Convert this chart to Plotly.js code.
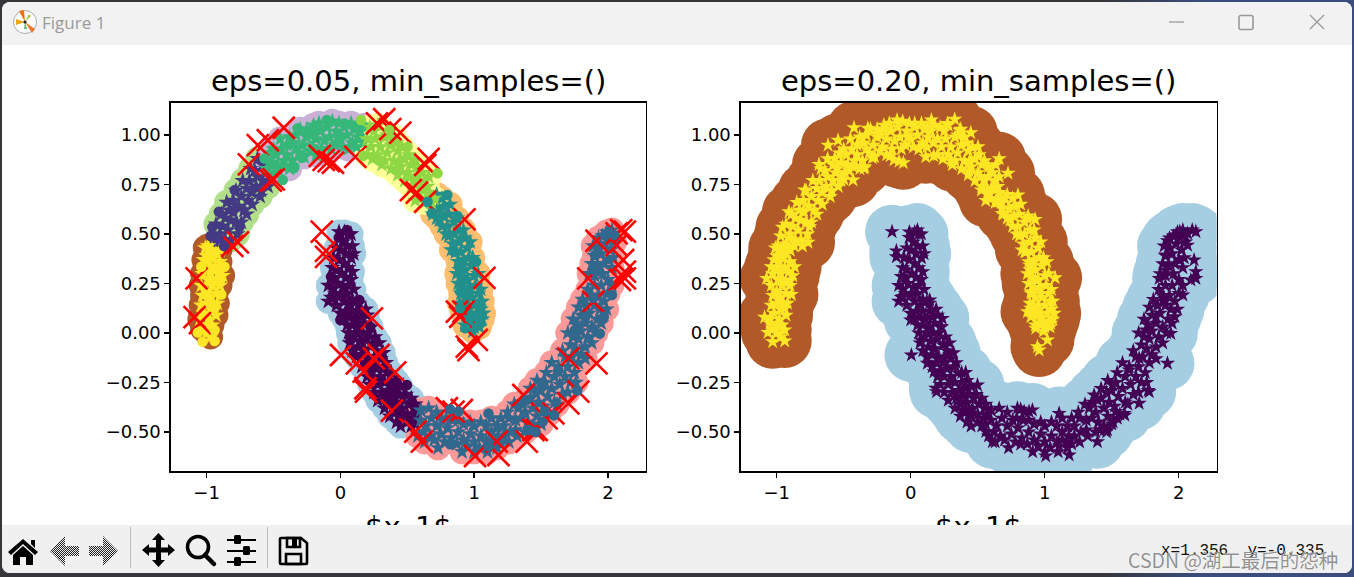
<!DOCTYPE html>
<html><head><meta charset="utf-8">
<script src="https://cdn.plot.ly/plotly-3.0.1.min.js"></script>
<style>
html,body{margin:0;padding:0;width:1354px;height:577px;overflow:hidden;background:#35363a;}
#edge{position:absolute;left:1100px;top:0;width:254px;height:577px;background:linear-gradient(90deg,#35363a,#3a4d7c 40%);}
#win{position:absolute;left:2px;top:2px;width:1350px;height:571px;background:#fff;border-radius:8px;overflow:hidden;}
#plot{position:absolute;left:0;top:0;width:1354px;height:577px;}
#titlebar{position:absolute;left:2px;top:2px;width:1350px;height:43px;background:#f2f2f2;border-radius:8px 8px 0 0;font:17px "Open Sans","Noto Sans",sans-serif;color:#9a9a9a;}
#titlebar span{position:absolute;left:40px;top:9px;}
#toolbar{position:absolute;left:2px;top:525px;width:1350px;height:48px;background:#f0f0f0;border-radius:0 0 8px 8px;}
#coord{position:absolute;left:1159px;top:17px;font:16px "Liberation Mono",monospace;color:#111;white-space:pre;}
#mark{position:absolute;left:1128px;top:545px;font:19.5px "Noto Sans CJK SC","Noto Sans",sans-serif;color:rgba(125,125,125,.85);text-shadow:0 0 1px #fff;white-space:pre;}
svg.ch{position:absolute;left:0;top:0;}
</style></head><body>
<div id="edge"></div><div id="win"></div><div id="plot"></div>
<div id="titlebar"><span>Figure 1</span>
<svg class="ch" width="1350" height="43">
<circle cx="23" cy="20" r="11.5" fill="#fff" stroke="#aaa"/>
<path d="M23 20L17 9L22 8Z" fill="#f07010"/><path d="M23 20L14 17L14 23Z" fill="#e8a818"/><path d="M23 20L30 31L33 27Z" fill="#e87830"/><path d="M23 20L27 12L29 14Z" fill="#a0c840"/><path d="M23 20L22 27L25 27Z" fill="#60b868"/><circle cx="23" cy="20" r="1.6" fill="#222"/>
<path d="M1167 20h15" stroke="#999" stroke-width="1.3"/>
<rect x="1237" y="13.5" width="14" height="14" rx="2" fill="none" stroke="#999" stroke-width="1.6"/>
<path d="M1308 13l14 14M1322 13l-14 14" stroke="#999" stroke-width="1.3"/>
</svg></div>
<div id="toolbar">
<svg class="ch" width="1350" height="48">
<defs><pattern id="dith" width="2" height="2" patternUnits="userSpaceOnUse"><rect width="1" height="1" fill="#222"/><rect x="1" y="1" width="1" height="1" fill="#222"/></pattern></defs>
<path d="M6 27L21 14L36 27L33 30L21 19L9 30ZM11 30L21 21L31 30V40H24V32H18V40H11ZM29 15h4v8l-4-4Z" fill="#000"/>
<path d="M48 26L63 11V21H77V31H63V41Z" fill="url(#dith)"/>
<path d="M116 26L101 11V21H87V31H101V41Z" fill="url(#dith)"/>
<path d="M128.5 2V43" stroke="#bbb"/>
<path d="M156.5 8L163 15H159V22.5H166V19L173 25L166 31V27.5H159V35H163L156.5 42L150 35H154V27.5H147V31L140 25L147 19V22.5H154V15H150Z" fill="#000"/>
<circle cx="196" cy="22" r="10.5" fill="none" stroke="#000" stroke-width="3.6"/><path d="M203 30L212 39" stroke="#000" stroke-width="4.5" stroke-linecap="round"/>
<path d="M225 15H254M225 26H254M225 37H254" stroke="#000" stroke-width="2"/><rect x="232" y="10" width="7" height="9" rx="1.5" fill="#000"/><rect x="241" y="21" width="7" height="9" rx="1.5" fill="#000"/><rect x="232" y="32" width="7" height="9" rx="1.5" fill="#000"/>
<path d="M265.5 2V43" stroke="#bbb"/>
<path d="M279 13H299L305 18V38Q305 39 304 39H279Q278 39 278 38V14Q278 13 279 13Z" fill="none" stroke="#000" stroke-width="2.6"/>
<path d="M285 13H298V22H285ZM284 29H299V39H284Z" fill="none" stroke="#000" stroke-width="2.6"/><rect x="290" y="14" width="5" height="7" fill="#000"/>
</svg>
<div id="coord">x=1.356  y=-0.335</div></div>
<div id="mark">CSDN @湖工最后的怨种</div>
<script>
const xTicks = [-1, 0, 1, 2];
const yTicks = [-0.5, -0.25, 0, 0.25, 0.5, 0.75, 1];
const titles = ['eps=0.05, min_samples=()', 'eps=0.20, min_samples=()'];
const xLabel = '$x_1$';

const core0 = [[.03,.51],[.06,.5],[.02,.46],[.05,.44],[.09,.44],[0,.42],[.04,.4],[.08,.38],[-.01,.37],[.03,.35],[.06,.33],[-.03,.32],[.01,.3],[.04,.28],[-.05,.28],[-.02,.25],[.02,.23],[.06,.24],[-.06,.22],[-.04,.2],[0,.19],[.05,.2],[.09,.17],[-.07,.18],[.03,.16],[.07,.14],[.12,.16],[.04,.11],[.09,.11],[.14,.11],[.06,.08],[.11,.07],[.16,.08],[.03,.07],[.09,.04],[.14,.03],[.18,.05],[.12,0],[.17,0],[.21,0],[.1,-.02],[.15,-.04],[.2,-.03],[.13,-.07],[.18,-.08],[.24,-.06],[.16,-.11],[.21,-.12],[.27,-.09],[.19,-.15],[.24,-.15],[.3,-.13],[.22,-.19],[.27,-.18],[.32,-.17],[.25,-.22],[.3,-.22],[.35,-.2],[.28,-.26],[.33,-.25],[.38,-.25],[.31,-.3],[.36,-.29],[.41,-.28],[.34,-.33],[.39,-.32],[.44,-.31],[.37,-.36],[.42,-.35],[.47,-.33],[.41,-.39],[.46,-.38],[.51,-.36],[.45,-.42],[.5,-.41],[.55,-.38],[.5,-.45],[.54,-.43],[.57,-.41],[.53,-.47],[.56,-.46],
[-.01,.51],[.08,.5],[-.03,.43],[.1,.4],[-.05,.38],[.09,.31],[-.06,.33],[.08,.27],[-.09,.24],[.1,.22],[-.09,.16],[-.03,.14],[.14,.15],[0,.1],[.19,.12],[.05,.04],[.2,.09],[.06,0],[.23,.03],[.07,-.05],[.26,-.02],[.09,-.09],[.29,-.05],[.12,-.12],[.32,-.1],[.16,-.17],[.34,-.15],[.2,-.22],[.38,-.2],[.22,-.26],[.42,-.24],[.25,-.3],[.45,-.27],[.28,-.34],[.49,-.31],[.33,-.38],[.53,-.33],[.37,-.42],[.56,-.36],[.42,-.45],[.45,-.47],[.6,-.39]];
const dots0 = [[.05,.52],[-.012,.483],[-.06,.183],[0,.066],[.224,.032],[.498,-.263],[.435,-.406],[.075,-.035],[.142,.167],[-.07,.285]];
const core1 = [[-.93,.45],[-.9,.5],[-.86,.47],[-.88,.54],[-.84,.52],[-.82,.57],[-.86,.58],[-.8,.61],[-.78,.56],[-.83,.62],[-.76,.64],[-.72,.62],[-.8,.67],[-.74,.69],[-.69,.67],[-.7,.73],[-.66,.71],[-.63,.74],[-.68,.77],[-.62,.79],[-.58,.77],[-.64,.82],[-.56,.81],[-.52,.79],[-.59,.72],
[-.95,.44],[-.9,.42],[-.93,.55],[-.89,.6],[-.82,.47],[-.77,.5],[-.74,.56],[-.85,.66],[-.78,.72],[-.7,.6],[-.66,.65],[-.73,.77],[-.67,.83],[-.6,.69],[-.58,.85],[-.54,.74],[-.62,.88]];
const dots1 = [[-.97,.49],[-.91,.48],[-.957,.534],[-.908,.613],[-.87,.44],[-.754,.537],[-.8,.62],[-.79,.722]];
const core2 = [[.6,-.44],[.64,-.47],[.68,-.43],[.62,-.5],[.67,-.52],[.72,-.47],[.76,-.44],[.7,-.54],[.75,-.51],[.8,-.48],[.84,-.44],[.78,-.55],[.83,-.53],[.88,-.5],[.92,-.46],[.87,-.56],[.92,-.54],[.97,-.51],[1,-.47],[.95,-.57],[1,-.55],[1.05,-.52],[1.09,-.47],[1.04,-.58],[1.09,-.55],[1.13,-.5],[1.17,-.47],[1.13,-.54],[1.18,-.52],[1.22,-.47],[1.26,-.43],[1.22,-.52],[1.27,-.5],[1.31,-.44],[1.2,-.43],[1.25,-.4],[1.31,-.49],[1.35,-.43],[1.38,-.4],[1.33,-.38],[1.4,-.45],[1.44,-.38],[1.48,-.35],[1.42,-.33],[1.47,-.42],[1.52,-.37],[1.46,-.3],[1.5,-.29],[1.55,-.32],[1.58,-.28],[1.53,-.25],[1.6,-.35],[1.64,-.26],[1.6,-.22],[1.66,-.31],[1.68,-.22],[1.63,-.17],[1.72,-.25],[1.7,-.17],[1.75,-.2],[1.73,-.12],[1.68,-.12],[1.78,-.15],[1.76,-.08],[1.8,-.11],[1.72,-.06],[1.78,-.03],[1.83,-.07],[1.8,.01],[1.85,-.02],[1.77,.04],[1.83,.05],[1.88,.03],[1.8,.09],[1.86,.1],[1.92,.07],[1.84,.14],[1.9,.14],[1.94,.12],[1.88,.19],[1.93,.19],[1.97,.16],[1.9,.24],[1.95,.24],[2,.2],[1.9,.29],[1.96,.3],[2,.27],[1.92,.34],[1.97,.35],[1.9,.39],[1.95,.4],[2,.37],[1.93,.43],[1.98,.45],[2.02,.42],[1.96,.49],[2.01,.48],[1.99,.51],
[.6,-.39],[.66,-.38],[.58,-.52],[.63,-.55],[.72,-.4],[.79,-.43],[.73,-.58],[.88,-.44],[.91,-.6],[.97,-.45],[1,-.6],[1.05,-.45],[1.1,-.6],[1.13,-.43],[1.17,-.58],[1.2,-.56],[1.3,-.36],[1.26,-.55],[1.36,-.35],[1.32,-.52],[1.38,-.5],[1.42,-.28],[1.44,-.47],[1.5,-.46],[1.47,-.24],[1.56,-.41],[1.54,-.2],[1.62,-.36],[1.58,-.15],[1.66,-.09],[1.7,-.3],[1.74,-.02],[1.76,-.25],[1.7,0],[1.83,-.13],[1.74,.07],[1.88,-.05],[1.78,.13],[1.91,0],[1.81,.17],[1.95,.05],[1.85,.22],[1.99,.12],[1.86,.3],[2.03,.24],[1.88,.35],[2.03,.33],[1.89,.44],[2.04,.38],[1.93,.48],[2.05,.46],[2.03,.52]];
const dots2 = [[.82,-.385],[.883,-.397],[.82,-.562],[1.107,-.406],[1.107,-.571],[1.505,-.263],[1.53,-.397],[1.63,-.187],[1.754,.015],[1.94,-.002],[1.903,.318],[1.891,.178],[1.978,.495],[2.045,.495],[1.903,.394],[1.393,-.338],[1.46,-.5],[1.41,-.49],[1.51,-.45],[1.597,-.415],[1.771,-.29],[1.83,.082],[1.97,.082],[2.03,.192],[2.007,.512]];
const core3 = [[.66,.68],[.7,.68],[.68,.63],[.73,.63],[.77,.64],[.72,.58],[.77,.59],[.81,.6],[.76,.54],[.8,.54],[.85,.56],[.81,.49],[.85,.5],[.89,.52],[.84,.45],[.89,.46],[.93,.48],[.86,.41],[.9,.41],[.95,.43],[.88,.36],[.92,.37],[.96,.38],[.89,.32],[.93,.32],[.98,.34],[.9,.28],[.95,.27],[1,.29],[.92,.23],[.96,.23],[1.01,.24],[.93,.18],[.98,.18],[1.03,.2],[.9,.2],[.95,.14],[1,.14],[1.04,.16],[.97,.1],[1.02,.1],[1.05,.12],[.94,.09],[.99,.06],[1.03,.06],[1.06,.07],[.96,.05],[1,.03],[1.04,.03],
[.72,.7],[.76,.68],[.82,.65],[.69,.6],[.74,.57],[.87,.58],[.79,.5],[.92,.52],[.83,.42],[.97,.46],[.87,.3],[.99,.38],[.88,.25],[1.03,.3],[.89,.15],[1.05,.22],[.91,.11],[1.06,.16],[.93,.04],[1.07,.1],[.99,.01],[.93,.27],[.97,.2],[.91,.34]];
const dots3 = [[.896,.125],[.97,.074],[.933,.024],[1.045,.049],[1.015,.36],[.684,.604],[.876,.591],[.896,.209],[.8,.697],[.851,.41],[.652,.663],[.888,.343]];
const core4 = [[-.52,.86],[-.47,.85],[-.48,.9],[-.44,.93],[-.4,.9],[-.36,.87],[-.4,.95],[-.35,.96],[-.31,.91],[-.28,.95],[-.33,1],[-.25,.99],[-.21,.94],[-.18,.98],[-.25,1.03],[-.15,1.02],[-.12,.97],[-.1,1.04],[-.08,.99],[-.04,.95],[-.03,1.02],[0,.98],[.03,1.04],[.05,1],[.02,.94],[.09,.96],[.1,1.03],[.13,.99],[.15,1.02],[.17,.96],[-.46,.82],[-.38,.83],[-.42,.87],
[-.5,.93],[-.45,.98],[-.38,.99],[-.3,1.03],[-.22,1],[-.18,.9],[-.14,.93],[-.07,.93],[-.06,1.07],[-.01,1.06],[.06,.93],[.08,1.06],[.12,.94],[.18,1.05],[-.33,.93],[-.27,.89],[-.23,.92],[-.49,.81],[-.43,.84],[-.2,1.05],[-.16,1.06],[-.02,.99],[.12,1.04],[-.55,.83],[-.53,.91]];
const dots4 = [[-.348,.832],[-.286,.885],[-.43,.773],[-.2,1.03],[-.102,1.076],[.03,1.059],[-.567,.882],[-.32,1.034],[-.343,.84]];
const core5 = [[.2,.98],[.23,.94],[.26,.98],[.3,.94],[.25,1.02],[.33,.99],[.28,.9],[.35,.91],[.38,.95],[.33,.87],[.4,.87],[.43,.92],[.38,.83],[.45,.84],[.48,.88],[.43,.8],[.5,.81],[.53,.85],[.48,.77],[.55,.77],[.58,.79],[.53,.74],[.6,.73],[.63,.77],[.58,.7],[.66,.71],[.63,.66],[.68,.66],[.7,.68],[.6,.68],
[.22,1.04],[.28,1.05],[.2,.9],[.24,.88],[.35,1],[.4,.99],[.42,.96],[.46,.94],[.31,.85],[.51,.9],[.55,.87],[.58,.84],[.61,.81],[.65,.74],[.56,.67],[.44,.87],[.52,.79],[.66,.79]];
const dots5 = [[.154,1.076],[.435,.818],[.172,.895],[.304,.869],[.502,.941],[.726,.807],[.366,1.025]];
const core6 = [[-1,.04],[-1.03,.02],[-.98,.07],[-1.02,.1],[-.97,.12],[-1,.15],[-.95,.15],[-.97,.18],[-1,.21],[-.93,.2],[-.96,.24],[-.99,.27],[-.93,.26],[-.97,.3],[-1,.33],[-.94,.33],[-.91,.31],[-.98,.36],[-.95,.38],[-1,.39],[-.96,.42],[-.93,.4],[-.99,.44],
[-1.05,.07],[-.96,.04],[-1.04,.14],[-.93,.09],[-1.03,.19],[-.92,.15],[-1.04,.24],[-.9,.24],[-1.03,.3],[-.88,.29],[-1.02,.37],[-.9,.36],[-1.01,.43],[-.9,.42],[-1,0],[-.97,-.02]];
const dots6 = [[-1.03,-.044],[-.94,-.04],[-1.065,.003],[-.94,.015],[-.94,.125],[-.89,.195],[-1.04,.335],[-.866,.335],[-.9,.265]];
const noiseOuter = [[-1.075,.276],[-1.09,.08],[-1.05,.05],[-.766,.458],[-.808,.44],[-.684,.852],[-.617,.949],[-.542,.974],[-.423,1.037],[-.498,.776],[-.52,.77],[-.154,.895],[-.125,.875],[-.087,.868],[-.055,.86],[.112,.89],[.274,1.059],[.328,1.08],[.373,1.03],[.448,1.012],[.527,.722],[.572,.709],[.634,.663],[.66,.88],[.635,.85],[.928,.574],[1.077,.279],[.871,.108],[.896,.082],[.92,.108],[1.02,-.035],[.945,-.069],[.958,-.086]];
const noiseInner = [[-.139,.512],[-.107,.415],[-.107,.385],[.236,.074],[.005,-.111],[.124,-.153],[.174,-.195],[.286,-.111],[.249,-.128],[.41,-.199],[.187,-.279],[.192,-.296],[.386,-.392],[.56,-.498],[.609,-.549],[.846,-.397],[.908,-.389],[.796,-.38],[1.007,-.621],[1.182,-.616],[1.169,-.549],[1.368,-.313],[1.393,-.549],[1.443,-.49],[1.468,-.49],[1.542,-.431],[1.592,-.406],[1.704,-.355],[1.779,-.296],[1.704,-.128],[1.915,-.153],[1.853,.276],[1.891,.158],[1.915,.466],[2.065,.503],[2.1,.52],[2.127,.512],[2.114,.369],[2.127,.276],[2.09,.268],[2.127,.31],[2.065,.444]];

const haloColors = ['#a6cee3','#b2df8a','#fb9a99','#fdbf6f','#cab2d6','#ffff99','#b15928'];
const coreColors = ['#440154','#443a83','#31688e','#21908d','#35b779','#8fd744','#fde725'];
const cores = [core0, core1, core2, core3, core4, core5, core6];
const dots = [dots0, dots1, dots2, dots3, dots4, dots5, dots6];

const xs = a => a.map(p => p[0]);
const ys = a => a.map(p => p[1]);
const pts = (a, ax, m) => ({type:'scatter', mode:'markers', x:xs(a), y:ys(a), xaxis:'x'+ax, yaxis:'y'+ax, marker:Object.assign({line:{width:0}}, m), hoverinfo:'skip', showlegend:false});

const traces = [];
cores.forEach((c,i) => traces.push(pts(c,'',{symbol:'circle', size:25, color:haloColors[i]})));
cores.forEach((c,i) => traces.push(pts(c,'',{symbol:'star', size:12.5, color:coreColors[i]})));
traces.push(pts(noiseOuter.concat(noiseInner),'',{symbol:'x-thin', size:22, color:'#ff0000', line:{width:2.6, color:'#ff0000'}}));
dots.forEach((d,i) => traces.push(pts(d,'',{symbol:'circle', size:10.5, color:coreColors[i]})));

const inner = [].concat(core0, dots0, core2, dots2, noiseInner);
const outer = [].concat(core1, dots1, core3, dots3, core4, dots4, core5, dots5, core6, dots6, noiseOuter);
traces.push(pts(inner,'2',{symbol:'circle', size:54, color:haloColors[0]}));
traces.push(pts(outer,'2',{symbol:'circle', size:54, color:haloColors[6]}));
traces.push(pts(inner,'2',{symbol:'star', size:11.5, color:'#440154'}));
traces.push(pts(outer,'2',{symbol:'star', size:11.5, color:'#fde725'}));

const W = 1354, H = 577;
const ax = (dom, rng, vals, fmt, anchor) => ({domain:dom, range:rng, tickmode:'array', tickvals:vals, tickformat:fmt, ticks:'outside', ticklen:5, tickwidth:1.3, tickcolor:'#000', showline:true, linecolor:'#000', linewidth:1.6, mirror:true, showgrid:false, zeroline:false, anchor:anchor, tickfont:{family:'DejaVu Sans', size:18, color:'#000'}});
const yDom = [1-471/H, 1-103/H];
const xr = [-1.266, 2.281], yr = [-.697, 1.162];
const note = (t, x, yPx, size) => ({text:t, xref:'paper', yref:'paper', x:x/W, y:1-yPx/H, xanchor:'center', yanchor:'middle', showarrow:false, font:{family:'DejaVu Sans', size:size, color:'#000'}});
const layout = {
  width:W, height:H, margin:{l:0,r:0,t:0,b:0}, paper_bgcolor:'rgba(0,0,0,0)', plot_bgcolor:'rgba(0,0,0,0)', showlegend:false, hovermode:false,
  xaxis:ax([171/W,645.5/W], xr, xTicks, 'd', 'y'),
  yaxis:ax(yDom, yr, yTicks, '.2f', 'x'),
  xaxis2:ax([741/W,1216.5/W], xr, xTicks, 'd', 'y2'),
  yaxis2:ax(yDom, yr, yTicks, '.2f', 'x2'),
  annotations:[note(titles[0],408,81,29), note(titles[1],978,81,29), note(xLabel,408,527,29), note(xLabel,978,527,29)]
};
Plotly.newPlot('plot', traces, layout, {displayModeBar:false, staticPlot:true, typesetMath:false});
</script>
</body></html>
